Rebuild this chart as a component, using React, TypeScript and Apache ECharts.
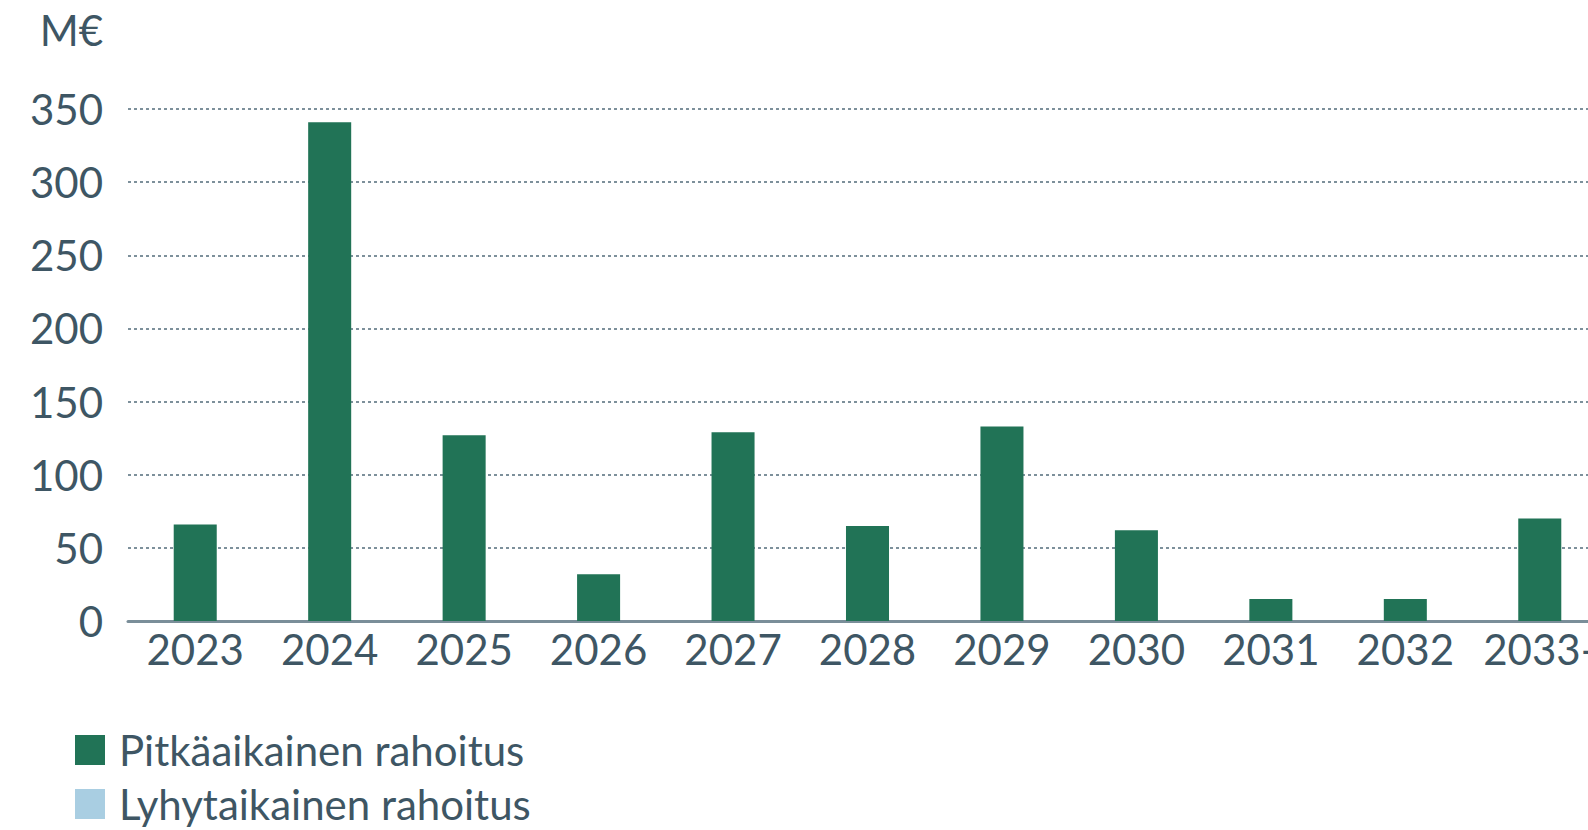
import React, { useEffect, useRef } from "react";
import * as echarts from "echarts";

const categories = ["2023", "2024", "2025", "2026", "2027", "2028", "2029", "2030", "2031", "2032", "2033-"];
const longTerm = [66, 341, 127, 32, 129, 65, 133, 62, 15, 15, 70];
const shortTerm = [0, 0, 0, 0, 0, 0, 0, 0, 0, 0, 0];
const seriesNames = ["Pitkäaikainen rahoitus", "Lyhytaikainen rahoitus"];
const unitLabel = "M€";

const textColor = "#3e5664";
const font = "Lato, sans-serif";

export default function App() {
  const ref = useRef<HTMLDivElement>(null);
  useEffect(() => {
    if (!ref.current) return;
    const chart = echarts.init(ref.current, undefined, { renderer: "svg" });
    chart.setOption({
      animation: false,
      textStyle: { fontFamily: font },
      grid: { left: 128, right: 13, top: 109, bottom: 830 - 621, containLabel: false },
      legend: {
        orient: "vertical",
        left: 75,
        top: 729,
        height: 120,
        padding: 0,
        itemWidth: 30,
        itemHeight: 30,
        itemGap: 12,
        icon: "rect",
        textStyle: { color: textColor, fontSize: 42, fontFamily: font, padding: [0, 0, 0, 9] },
        data: seriesNames,
      },
      graphic: [
        {
          type: "text",
          x: 103,
          y: 30,
          style: {
            text: unitLabel,
            fill: textColor,
            fontSize: 42,
            fontFamily: font,
            textAlign: "right",
            textVerticalAlign: "middle",
          },
        },
      ],
      xAxis: {
        type: "category",
        data: categories,
        axisLine: { show: true, lineStyle: { color: "#7a8e99", width: 3 } },
        axisTick: { show: false },
        axisLabel: { color: textColor, fontSize: 42, fontFamily: font, margin: 7, interval: 0 },
      },
      yAxis: {
        type: "value",
        min: 0,
        max: 350,
        interval: 50,
        axisLine: { show: false },
        axisTick: { show: false },
        axisLabel: { color: textColor, fontSize: 42, fontFamily: font, margin: 25 },
        splitLine: { show: true, lineStyle: { color: "#7d909b", width: 2, type: [3, 3] } },
      },
      series: [
        {
          name: seriesNames[0],
          type: "bar",
          stack: "total",
          data: longTerm,
          barWidth: "32%",
          itemStyle: { color: "#217356" },
        },
        {
          name: seriesNames[1],
          type: "bar",
          stack: "total",
          data: shortTerm,
          barWidth: "32%",
          itemStyle: { color: "#a9cee2" },
        },
      ],
    });
    return () => chart.dispose();
  }, []);
  return (
    <div style={{ position: "absolute", left: 0, top: 0, width: 1588, height: 830, overflow: "hidden", background: "#fff" }}>
      <div ref={ref} style={{ width: 1620, height: 830 }} />
    </div>
  );
}
